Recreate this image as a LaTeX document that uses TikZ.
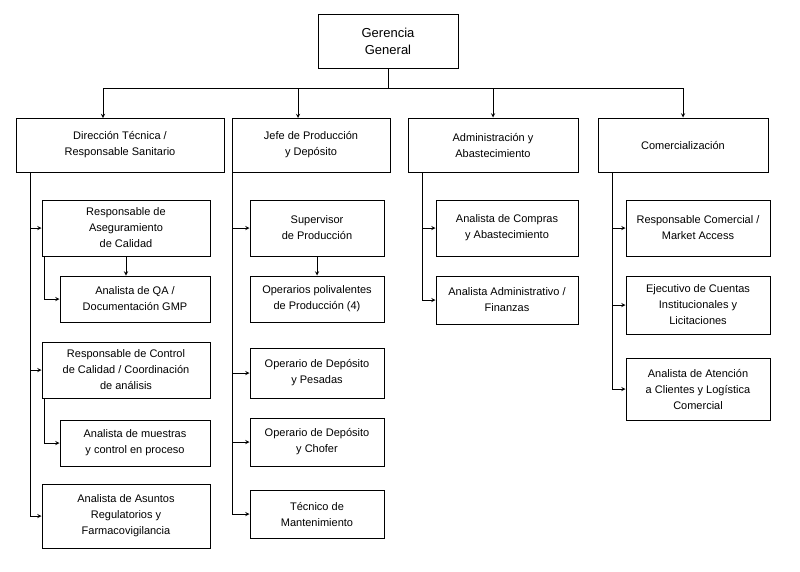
\documentclass[tikz,border=0pt]{standalone}
\usepackage{fontspec}
\setmainfont{Liberation Sans}
\usetikzlibrary{arrows}
\tikzset{
  box/.style={rectangle, draw=black, line width=1pt, fill=white, align=center,
    font=\fontsize{11}{16}\selectfont, inner sep=2pt},
  arr/.style={-stealth, line width=0.9pt},
  ln/.style={line width=0.9pt}
}
\begin{document}
\begin{tikzpicture}[x=1pt, y=-1pt]
\useasboundingbox (0,0) rectangle (800,571);
% Top level
\node[box, minimum width=140, minimum height=54, font=\fontsize{13}{17}\selectfont] (gg) at (388,41) {Gerencia\\General};
\coordinate (bus) at (388,88);

% Second level
\node[box, minimum width=208, minimum height=54] (dt) at (120,145) {Dirección Técnica /\\Responsable Sanitario};
\node[box, minimum width=158, minimum height=54] (jp) at (311,145) {Jefe de Producción\\y Depósito};
\node[box, minimum width=170, minimum height=54] (ad) at (493,145) {Administración y\\Abastecimiento};
\node[box, minimum width=170, minimum height=54] (co) at (683,145) {Comercialización};

\draw[ln] (gg) -- (bus);
\draw[arr] (bus) -| (103,118);
\draw[arr] (bus) -| (298,118);
\draw[arr] (bus) -| (ad.north);
\draw[arr] (bus) -| (co.north);

% Dirección Técnica branch
\node[box, minimum width=168, minimum height=56] (rac) at (126,228) {Responsable de\\Aseguramiento\\de Calidad};
\node[box, minimum width=150, minimum height=46] (aqa) at (135,299) {Analista de QA /\\Documentación GMP};
\node[box, minimum width=168, minimum height=56] (rcc) at (126,370) {Responsable de Control\\de Calidad / Coordinación\\de análisis};
\node[box, minimum width=150, minimum height=46] (amu) at (135,443) {Analista de muestras\\y control en proceso};
\node[box, minimum width=168, minimum height=64] (aar) at (126,516) {Analista de Asuntos\\Regulatorios y\\Farmacovigilancia};
\coordinate (dtl) at (30,172);
\coordinate (racl) at (44,256);
\coordinate (rccl) at (44,398);
\draw[ln] (dtl) -- (30,516);
\draw[arr] (dtl) |- (rac.west);
\draw[arr] (dtl) |- (rcc.west);
\draw[arr] (dtl) |- (aar.west);
\draw[arr] (racl) |- (aqa.west);
\draw[arr] (rccl) |- (amu.west);
\draw[arr] (rac.south) -- (rac.south |- aqa.north);

% Producción branch
\node[box, minimum width=134, minimum height=56] (sup) at (317,228) {Supervisor\\de Producción};
\node[box, minimum width=134, minimum height=46] (opp) at (317,299) {Operarios polivalentes\\de Producción (4)};
\node[box, minimum width=134, minimum height=50] (odp) at (317,373) {Operario de Depósito\\y Pesadas};
\node[box, minimum width=134, minimum height=48] (odc) at (317,442) {Operario de Depósito\\y Chofer};
\node[box, minimum width=134, minimum height=48] (tma) at (317,514) {Técnico de\\Mantenimiento};
\coordinate (jpl) at (232,172);
\draw[ln] (jpl) -- (232,514);
\draw[arr] (jpl) |- (sup.west);
\draw[arr] (jpl) |- (odp.west);
\draw[arr] (jpl) |- (odc.west);
\draw[arr] (jpl) |- (tma.west);
\draw[arr] (sup) -- (opp);

% Administración branch
\node[box, minimum width=142, minimum height=56] (aco) at (507,228) {Analista de Compras\\y Abastecimiento};
\node[box, minimum width=142, minimum height=48] (aaf) at (507,300) {Analista Administrativo /\\Finanzas};
\coordinate (adl) at (422,172);
\draw[arr] (adl) |- (aco.west);
\draw[arr] (adl) |- (aaf.west);

% Comercialización branch
\node[box, minimum width=144, minimum height=56] (rcm) at (698,228) {Responsable Comercial /\\Market Access};
\node[box, minimum width=144, minimum height=58] (eci) at (698,305) {Ejecutivo de Cuentas\\Institucionales y\\Licitaciones};
\node[box, minimum width=144, minimum height=62] (aca) at (698,389) {Analista de Atención\\a Clientes y Logística\\Comercial};
\coordinate (col) at (612,172);
\draw[arr] (col) |- (rcm.west);
\draw[arr] (col) |- (eci.west);
\draw[arr] (col) |- (aca.west);
\end{tikzpicture}
\end{document}
